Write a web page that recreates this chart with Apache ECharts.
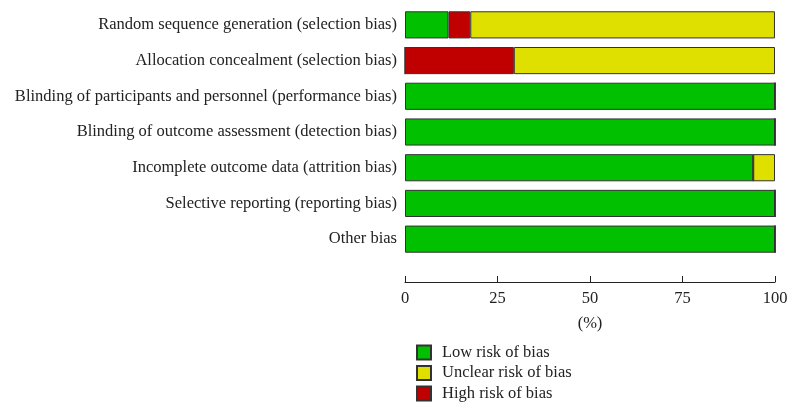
<!DOCTYPE html>
<html><head><meta charset="utf-8">
<script src="https://cdn.jsdelivr.net/npm/echarts@6/dist/echarts.min.js"></script>
<style>html,body{margin:0;padding:0;background:#fff}#c{width:796px;height:411px}</style>
</head><body><div id="c"></div>
<script>
const categories = [
  "Random sequence generation (selection bias)",
  "Allocation concealment (selection bias)",
  "Blinding of participants and personnel (performance bias)",
  "Blinding of outcome assessment (detection bias)",
  "Incomplete outcome data (attrition bias)",
  "Selective reporting (reporting bias)",
  "Other bias"
];
const lowRisk     = [11.76, 0, 100, 100, 94.12, 100, 100];
const highRisk    = [5.88, 29.41, 0, 0, 0, 0, 0];
const unclearRisk = [82.35, 70.59, 0, 0, 5.88, 0, 0];
const xTicks = [0, 25, 50, 75, 100];

const font = "'Liberation Serif', 'DejaVu Serif', serif";
const fs = 16.5;
const chart = echarts.init(document.getElementById('c'), null, {renderer: 'canvas'});
function mk(name, data, color) {
  return {
    name, type: 'bar', stack: 'all', data,
    barCategoryGap: '24%',
    itemStyle: {color, borderColor: '#333', borderWidth: 1},
    emphasis: {disabled: true}
  };
}
chart.setOption({
  animation: false,
  grid: {left: 405, right: 21, top: 7, height: 250},
  legend: {
    orient: 'vertical', left: 411, top: 339,
    itemWidth: 14, itemHeight: 14, itemGap: 3.5,
    icon: 'rect',
    data: ['Low risk of bias', 'Unclear risk of bias', 'High risk of bias'],
    textStyle: {fontFamily: font, fontSize: fs, color: '#222', padding: [0, 0, 0, 6]}
  },
  xAxis: {
    type: 'value', min: 0, max: 100, interval: 25, offset: 25,
    axisLine: {show: true, lineStyle: {color: '#222', width: 1}},
    axisTick: {show: true, inside: true, length: 6, lineStyle: {color: '#222'}},
    splitLine: {show: false},
    axisLabel: {fontFamily: font, fontSize: fs, color: '#222', margin: 8,
      formatter: v => xTicks.includes(v) ? String(v) : ''},
    name: '(%)', nameLocation: 'middle', nameGap: 33,
    nameTextStyle: {fontFamily: font, fontSize: fs, color: '#222'}
  },
  yAxis: {
    type: 'category', data: categories, inverse: true,
    axisLine: {show: false}, axisTick: {show: false},
    axisLabel: {fontFamily: font, fontSize: fs, color: '#222', margin: 8}
  },
  series: [
    mk('Low risk of bias', lowRisk, '#00c000'),
    mk('High risk of bias', highRisk, '#c00000'),
    mk('Unclear risk of bias', unclearRisk, '#e0e000')
  ]
});
</script></body></html>
